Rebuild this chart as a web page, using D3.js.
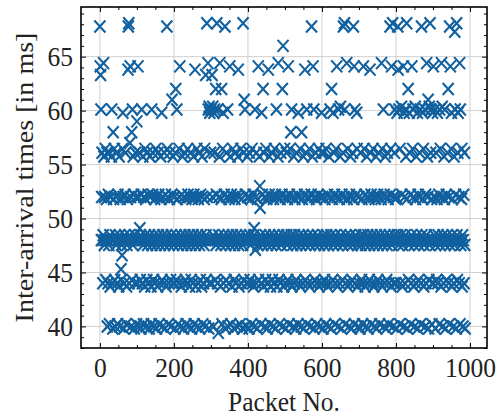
<!DOCTYPE html>
<html>
<head>
<meta charset="utf-8">
<script src="https://d3js.org/d3.v7.min.js"></script>
<style>
  body { margin: 0; background: #fff; }
  text { font-family: "Liberation Serif", "Times New Roman", serif; }
</style>
</head>
<body>
<svg width="497" height="418"></svg>
<script>
// one code letter per packet -> inter-arrival time [ms]
var codeLetters = "abcdefghijklmnopqrstuvwxyzABCDEFGHIJKL";
var codeValues = [39.8, 40.0, 40.2, 43.7, 44.0, 44.3, 47.55, 48.0, 48.45, 51.8, 52.0, 52.2,
  55.75, 56.1, 56.45, 59.8, 60.1, 60.35, 63.8, 64.1, 64.4, 67.8, 68.1,
  58, 62, 66, 57, 59, 61, 63.3, 45.3, 46.6, 49.1, 51, 53, 39.4, 67.3, 47.1];

// packets 0..987, 100 per block (dense bands estimated)
var packetBlocks = [
  "vtDqhknheiumgkhofhjnbhelgncidkhmqehaxjhofbikgnehclhdmibjhEfgFopkhaeilnhcdgjhsvweiAtkbhxfqgmlhaeinkhc",
  "BhetkbhnGfialqhemgckhdoijbhfnglheaimkhdcqglnhfbijehogakhdnilchegmjhpfbikhengalhdivokhcegjnhfbilChemg",
  "hkeanyifqjhcgeokthbidlhmgeakhnifjchgeolhbidkhngfajheimlchsgdkhobiejhngaflhidmkchegjohbDifwkhuqarephn",
  "qheDkribpnqhfyglwheqJikmuhdgjychopeilhvagfnkhqbiejhtmgclhdiokhafgjnheiblhmsgdkhcioejhagwnfChqlibehmk",
  "hekanifgjhcoehldiGbqLkenhajgtfhmIHicephlgydnhkbifohjageshlmicdhkgnfhbjieohlagqdhkmuifchjenghlybzidho",
  "hkeanigjfthcleohxiqdkghbmeijhafnglhcpeikhodgbxhjeimahlsfgnhqckeihjodgbhlvemithqakfgnhjceihlodgbhkenp",
  "hekaingfjhcoeihldgbmhkqeiayhjfpgnhlcieohtkdgbqhjemrihalfgnvhkwqceihujodghbleimhkafgnhvjtcqeihlpodgbh",
  "kehanigfjhcetiohldgbhmkeiahjfgsnhlceihokdgbhjemiahlfgnhkceihjuodghqbleimhkafgnhjceihvlodtghwbkeinqhj",
  "ekapivsgqhcoeihrldghtbpkeiqmhwjahyfgpnhlceithoqkdgbhrjemihpalfghnkqcevihpjodghqbleiuhmkCafrgwhnqjcep",
  "htekiqagnhfjpeihlcqgohdukrbihemjqgahlfinhyekcvgthopdijhbemgKqlhawifnphkeucqghjodibhlenga"
];

var xTicks = [0, 200, 400, 600, 800, 1000];
var yTicks = [40, 45, 50, 55, 60, 65];
var xMinor = d3.range(50, 1001, 50).filter(function(v){ return v % 200 !== 0; });
var yMinor = d3.range(38, 70, 1).filter(function(v){ return v % 5 !== 0; });

var W = 497, H = 418, L = 81, R = 487, T = 7, B = 348;
var blue = "#11609f";
var fontSize = 25.5, stretch = 1.1;

var x = d3.scaleLinear().domain([-51, 1046]).range([L, R]);
var y = d3.scaleLinear().domain([38, 69.6]).range([B, T]);

var svg = d3.select("svg");
svg.append("rect").attr("width", W).attr("height", H).attr("fill", "#fff");

// grid
var grid = svg.append("g").attr("stroke", "#c4c4c4").attr("stroke-width", 0.8);
grid.selectAll("line.gx").data(xTicks).join("line").attr("class", "gx")
  .attr("x1", function(d){ return x(d); }).attr("x2", function(d){ return x(d); })
  .attr("y1", T).attr("y2", B);
grid.selectAll("line.gy").data(yTicks).join("line").attr("class", "gy")
  .attr("y1", function(d){ return y(d); }).attr("y2", function(d){ return y(d); })
  .attr("x1", L).attr("x2", R);

// points
var points = [];
packetBlocks.forEach(function(s, b){
  for (var j = 0; j < s.length; j++) {
    points.push({ packet: b * 100 + j, ms: codeValues[codeLetters.indexOf(s[j])] });
  }
});

svg.append("g").attr("stroke", blue).attr("stroke-width", 2.1).attr("fill", "none")
  .attr("stroke-linecap", "butt")
  .selectAll("path").data(points).join("path")
  .attr("d", function(d){
    var cx = x(d.packet), cy = y(d.ms), a = 5.5, b = 6;
    return "M" + (cx - a) + "," + (cy - b) + "L" + (cx + a) + "," + (cy + b) +
           "M" + (cx - a) + "," + (cy + b) + "L" + (cx + a) + "," + (cy - b);
  });

// axes: inward ticks on all four sides
function addAxis(gen, tr) {
  var g = svg.append("g").attr("transform", tr).call(gen);
  g.select(".domain").remove();
  g.selectAll("line").attr("stroke", "#000").attr("stroke-width", 1);
  g.attr("font-family", null).attr("font-size", null);
  return g;
}
var gx = addAxis(d3.axisBottom(x).tickValues(xTicks).tickSize(-5).tickPadding(8).tickFormat(d3.format("d")), "translate(0," + B + ")");
addAxis(d3.axisBottom(x).tickValues(xMinor).tickSize(-3).tickFormat(""), "translate(0," + B + ")");
addAxis(d3.axisTop(x).tickValues(xTicks).tickSize(-5).tickFormat(""), "translate(0," + T + ")");
addAxis(d3.axisTop(x).tickValues(xMinor).tickSize(-3).tickFormat(""), "translate(0," + T + ")");
var gy = addAxis(d3.axisLeft(y).tickValues(yTicks).tickSize(-5).tickPadding(8).tickFormat(d3.format("d")), "translate(" + L + ",0)");
addAxis(d3.axisLeft(y).tickValues(yMinor).tickSize(-3).tickFormat(""), "translate(" + L + ",0)");
addAxis(d3.axisRight(y).tickValues(yTicks).tickSize(-5).tickFormat(""), "translate(" + R + ",0)");
addAxis(d3.axisRight(y).tickValues(yMinor).tickSize(-3).tickFormat(""), "translate(" + R + ",0)");

[gx, gy].forEach(function(g){
  g.selectAll("text").attr("fill", "#222").style("font-size", fontSize + "px")
    .attr("transform", "scale(1," + stretch + ")");
});

// frame
svg.append("rect").attr("x", L).attr("y", T).attr("width", R - L).attr("height", B - T)
  .attr("fill", "none").attr("stroke", "#000").attr("stroke-width", 1.6);

// axis titles
svg.append("text").attr("text-anchor", "middle").attr("fill", "#222")
  .style("font-size", fontSize + "px")
  .attr("transform", "translate(" + ((L + R) / 2) + ",411) scale(1," + stretch + ")")
  .text("Packet No.");
svg.append("text").attr("text-anchor", "middle").attr("fill", "#222")
  .style("font-size", fontSize + "px")
  .attr("transform", "translate(33," + ((T + B) / 2) + ") scale(1," + stretch + ") rotate(-90)")
  .text("Inter-arrival times [in ms]");
</script>
</body>
</html>
